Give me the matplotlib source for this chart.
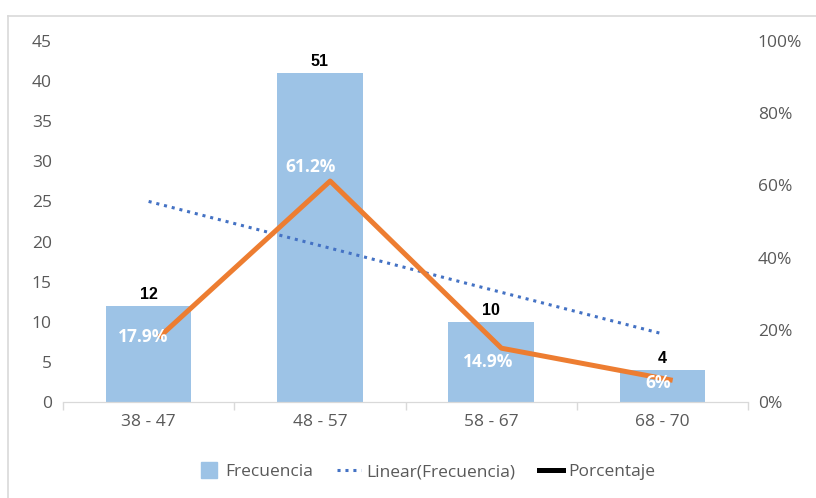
import numpy as np
import matplotlib
matplotlib.use("Agg")
import matplotlib.pyplot as plt
from matplotlib.lines import Line2D
from matplotlib.ticker import PercentFormatter

plt.rcParams["font.family"] = ["Open Sans", "DejaVu Sans"]

# rangos de edad y frecuencias
rangos = ["38 - 47", "48 - 57", "58 - 67", "68 - 70"]
frecuencia = [12, 41, 10, 4]
etiquetas_frec = ["12", "51", "10", "4"]
porcentaje = [17.9, 61.2, 14.9, 6.0]
etiquetas_pct = ["17.9%", "61.2%", "14.9%", "6%"]

GRIS = "#595959"
AZUL_BARRA = "#9DC3E6"
NARANJA = "#ED7D31"
AZUL_TREND = "#4472C4"
FS = 12.5

fig = plt.figure(figsize=(8.16, 4.98), dpi=100)
ax = fig.add_axes([0.0772, 0.1928, 0.8395, 0.7249])
ax2 = ax.twinx()

x = np.arange(len(rangos))
ax.bar(x, frecuencia, width=0.5, color=AZUL_BARRA, zorder=2)

# linea de tendencia lineal de la frecuencia
m, b = np.polyfit(x, frecuencia, 1)
ax.plot(x, m * x + b, linestyle=(0, (1, 1.6)), color=AZUL_TREND, lw=2.2, zorder=3)

for xi, yi, txt in zip(x, frecuencia, etiquetas_frec):
    ax.annotate(txt, (xi, yi), xytext=(0, 3), textcoords="offset points",
                ha="center", va="bottom", fontsize=11.5, fontweight="bold",
                color="black", family=["Liberation Sans", "DejaVu Sans"])

ax.set_xlim(-0.5, len(rangos) - 0.5)
ax.set_ylim(0, 45)
ax.set_yticks(range(0, 46, 5))
ax.set_xticks(x)
ax.set_xticklabels(rangos)
ax.set_xticks(np.arange(-0.5, len(rangos)), minor=True)
ax.tick_params(axis="x", which="major", length=0, pad=9, labelsize=FS, labelcolor=GRIS)
ax.tick_params(axis="x", which="minor", length=6, color="#D9D9D9", width=1)
ax.tick_params(axis="y", length=0, pad=8, labelsize=FS, labelcolor=GRIS)

# porcentaje en el eje secundario
x_pct = x + 0.06
ax2.plot(x_pct, porcentaje, color=NARANJA, lw=3.6, solid_capstyle="butt", zorder=4)
desplaz = [(-4, 0), (-7, 10), (-2, -10), (-3, -2)]
for xi, yi, txt, (dx, dy) in zip(x, porcentaje, etiquetas_pct, desplaz):
    ax2.annotate(txt, (xi, yi), xytext=(dx, dy), textcoords="offset points",
                 ha="center", va="center", fontsize=12.5, fontweight="bold",
                 color="white", zorder=5)
ax2.set_ylim(0, 100)
ax2.set_yticks(range(0, 101, 20))
ax2.yaxis.set_major_formatter(PercentFormatter(decimals=0))
ax2.tick_params(axis="y", length=0, pad=7, labelsize=FS, labelcolor=GRIS)

for a in (ax, ax2):
    for lado in ("top", "left", "right"):
        a.spines[lado].set_visible(False)
    a.spines["bottom"].set_color("#D9D9D9")

handles = [
    Line2D([], [], marker="s", ls="none", ms=11, mfc=AZUL_BARRA, mec=AZUL_BARRA),
    Line2D([], [], linestyle=(0, (1, 1.6)), color=AZUL_TREND, lw=2.2),
    Line2D([], [], color="black", lw=3.6),
]
fig.legend(handles, ["Frecuencia", "Linear(Frecuencia)", "Porcentaje"],
           loc="center", bbox_to_anchor=(0.522, 0.052), ncol=3, frameon=False,
           fontsize=FS, labelcolor=GRIS, handlelength=1.38, handletextpad=0.29,
           columnspacing=1.38)

# marco del grafico
fig.add_artist(Line2D([8 / 816, 8 / 816], [0, 1 - 16 / 498], color="#D9D9D9", lw=1.2))
fig.add_artist(Line2D([8 / 816, 1], [1 - 16 / 498, 1 - 16 / 498], color="#D9D9D9", lw=1.2))

fig.savefig("out.png", dpi=100)
